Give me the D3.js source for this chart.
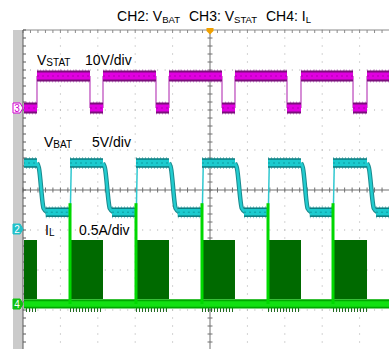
<!DOCTYPE html>
<html><head><meta charset="utf-8">
<script src="https://cdn.jsdelivr.net/npm/d3@7"></script>
<style>
html,body{margin:0;padding:0;background:#fff;}
svg{display:block;font-family:"Liberation Sans",Arial,sans-serif;}
</style></head>
<body><svg id="c" width="389" height="349"></svg>
<script>
// ---- data (time in divisions, channel values in V / A) ----
const statRise = [0.374, 2.139, 3.904, 5.668, 7.433, 9.198];
const statFall = [1.791, 3.556, 5.321, 7.059, 8.824];
const statLow = 0, statHigh = 8.0;            // V, 10 V/div
const batRise = [1.257, 3.021, 4.786, 6.551, 8.289];
const batFallStart = [0.374, 2.139, 3.904, 5.668, 7.433, 9.198];
const batFallEnd = [0.61, 2.38, 4.14, 5.91, 7.67, 9.44];
const batHigh = 8.25, batLow = 2.1;           // V, 5 V/div
const burstStart = [0, 1.257, 3.021, 4.786, 6.551, 8.289];
const burstEnd = [0.374, 2.139, 3.904, 5.668, 7.433, 9.198];
const burstLevel = 0.8, spikeLevel = 1.26;    // A, 0.5 A/div
const channels = [
  {id:"3", name:"V_STAT", perDiv:10, offset:2.05, color:"#d000d0"},
  {id:"2", name:"V_BAT", perDiv:5, offset:-0.975, color:"#20c0c8"},
  {id:"4", name:"I_L", perDiv:0.5, offset:-2.85, color:"#10c010"}
];

const svg = d3.select("#c");
const x = d3.scaleLinear().domain([0,10]).range([23,397]);
const y = d3.scaleLinear().domain([-4,4]).range([350,30]);
const ch = id => channels.find(c=>c.id===id);
const yv = (id,v) => { const c = ch(id); return y(c.offset + v/c.perDiv); };

// ---- frame / graticule ----
svg.append("rect").attr("x",13).attr("y",30).attr("width",10).attr("height",319).attr("fill","#cbcbcb");
const g = svg.append("g");
const minorX = d3.range(0,10.001,0.2), minorY = d3.range(-4,4.001,0.2);
[1,2,3,4,6,7,8,9].forEach(k=>{
  minorY.forEach(v=>g.append("rect").attr("x",x(k)-0.5).attr("y",y(v)-0.5).attr("width",1).attr("height",1).attr("fill","#a8a8a8"));
});
[-3,-2,-1,1,2,3].forEach(k=>{
  minorX.forEach(t=>g.append("rect").attr("x",x(t)-0.5).attr("y",y(k)-0.5).attr("width",1).attr("height",1).attr("fill","#a8a8a8"));
});
g.append("line").attr("x1",x(0)).attr("x2",389).attr("y1",y(0)).attr("y2",y(0)).attr("stroke","#707070");
g.append("line").attr("x1",x(5)).attr("x2",x(5)).attr("y1",y(4)).attr("y2",349).attr("stroke","#707070");
minorX.forEach(t=>g.append("line").attr("x1",x(t)).attr("x2",x(t)).attr("y1",y(0)-2.5).attr("y2",y(0)+2.5).attr("stroke","#707070"));
minorY.forEach(v=>g.append("line").attr("x1",x(5)-2.5).attr("x2",x(5)+2.5).attr("y1",y(v)).attr("y2",y(v)).attr("stroke","#707070"));
g.append("line").attr("x1",x(0)).attr("x2",389).attr("y1",y(4)).attr("y2",y(4)).attr("stroke","#8a8a8a");
minorX.forEach(t=>g.append("line").attr("x1",x(t)).attr("x2",x(t)).attr("y1",y(4)).attr("y2",y(4)+3).attr("stroke","#8a8a8a"));
g.append("line").attr("x1",x(0)).attr("x2",x(0)).attr("y1",y(4)).attr("y2",349).attr("stroke","#5a5a5a");
minorY.forEach(v=>g.append("line").attr("x1",x(0)).attr("x2",x(0)+3).attr("y1",y(v)).attr("y2",y(v)).attr("stroke","#5a5a5a"));

const plot = svg.append("g");
svg.append("clipPath").attr("id","clip").append("rect").attr("x",x(0)+1).attr("y",y(4)+1).attr("width",389-x(0)).attr("height",320);
plot.attr("clip-path","url(#clip)");

// ---- CH3 V_STAT ----
const statEdges = [...statRise.map(t=>({t,v:statHigh})), ...statFall.map(t=>({t,v:statLow}))].sort((a,b)=>a.t-b.t);
const statSegs = [];
let prevT = 0, prevV = statLow;
statEdges.forEach(e=>{ statSegs.push({a:prevT,b:e.t,v:prevV}); prevT=e.t; prevV=e.v; });
statSegs.push({a:prevT,b:10,v:prevV});
const gs = plot.append("g");
statEdges.forEach(e=>gs.append("line").attr("x1",x(e.t)).attr("x2",x(e.t)).attr("y1",yv("3",statLow)).attr("y2",yv("3",statHigh)).attr("stroke","#c868c8").attr("stroke-width",1.5));
[["#d8a0dc",13,"1 2"],["#7a107a",11,null],["#e000e0",7,null],["#b000b0",1,"2 3"]].forEach(([c,w,d])=>{
  statSegs.forEach(s=>{
    const l = gs.append("line").attr("x1",x(s.a)).attr("x2",x(s.b)).attr("y1",yv("3",s.v)).attr("y2",yv("3",s.v)).attr("stroke",c).attr("stroke-width",w);
    if(d) l.attr("stroke-dasharray",d);
  });
});

// ---- CH2 V_BAT ----
const gb = plot.append("g");
const starts = [0, ...batRise];
const ends = [...batRise, 10];
const bline = d3.line().x(d=>x(d[0])).y(d=>yv("2",d[1])).curve(d3.curveMonotoneX);
batRise.forEach(t=>gb.append("line").attr("x1",x(t)+0.3).attr("x2",x(t)+1.3).attr("y1",yv("2",batLow)).attr("y2",yv("2",batHigh)).attr("stroke","#30c8d0").attr("stroke-width",1.5));
const ramps = batFallStart.map((s,i)=>[[s,batHigh],[s+0.05,batHigh-0.6],[batFallEnd[i]-0.06,batLow+0.5],[batFallEnd[i]+0.04,batLow]]);
[["#1a8a8e",4.5],["#22cccf",2.5]].forEach(([c,w])=>{
  ramps.forEach(p=>gb.append("path").attr("d",bline(p)).attr("fill","none").attr("stroke",c).attr("stroke-width",w).attr("stroke-linejoin","round"));
});
const batSegs = [];
starts.forEach((s,i)=>{ batSegs.push({a:s,b:batFallStart[i],v:batHigh}); batSegs.push({a:batFallEnd[i],b:ends[i],v:batLow}); });
[["#90d0d0",12,"1 2"],["#0a7a7e",9.5,null],["#1ccbcf",6.5,null],["#0c9a9e",1,"2 3"]].forEach(([c,w,d])=>{
  batSegs.forEach(s=>{
    const l = gb.append("line").attr("x1",x(s.a)).attr("x2",x(s.b)).attr("y1",yv("2",s.v)).attr("y2",yv("2",s.v)).attr("stroke",c).attr("stroke-width",w);
    if(d) l.attr("stroke-dasharray",d);
  });
});

// ---- CH4 I_L ----
const gi = plot.append("g");
burstStart.forEach((s,i)=>{
  gi.append("rect").attr("x",x(s)).attr("y",yv("4",burstLevel)).attr("width",x(burstEnd[i])-x(s)).attr("height",yv("4",0)-yv("4",burstLevel)).attr("fill","#006a00");
  gi.append("line").attr("x1",x(s)).attr("x2",x(burstEnd[i])).attr("y1",yv("4",-0.07)).attr("y2",yv("4",-0.07)).attr("stroke","#206a20").attr("stroke-width",5).attr("stroke-dasharray","1 2");
});
gi.append("line").attr("x1",x(0)).attr("x2",x(10)).attr("y1",yv("4",0)).attr("y2",yv("4",0)).attr("stroke","#00a800").attr("stroke-width",9);
gi.append("line").attr("x1",x(0)).attr("x2",x(10)).attr("y1",yv("4",0)).attr("y2",yv("4",0)).attr("stroke","#12e012").attr("stroke-width",5.5);
gi.append("line").attr("x1",x(0)).attr("x2",x(10)).attr("y1",yv("4",0)-4.5).attr("y2",yv("4",0)-4.5).attr("stroke","#38c038").attr("stroke-width",1);
batRise.forEach(t=>{
  gi.append("line").attr("x1",x(t)).attr("x2",x(t)).attr("y1",yv("4",0)).attr("y2",yv("4",spikeLevel)).attr("stroke","#00d800").attr("stroke-width",3);
});

// ---- trigger marker ----
svg.append("path").attr("d",`M${x(5)-3.5},${y(4)-2} h7 v3 l-3.5,3.5 l-3.5,-3.5 z`).attr("fill","#f0a000");

// ---- channel markers ----
channels.forEach(c=>{
  const cy = yv(c.id,0);
  const filled = c.id!=="3";
  svg.append("path").attr("d",`M13,${cy-5} h7 l3,5 l-3,5 h-7 z`)
    .attr("fill",filled?c.color:"#fff").attr("stroke",c.color).attr("stroke-width",1);
  svg.append("text").attr("x",17).attr("y",cy+3.5).attr("text-anchor","middle").attr("font-size",10)
    .attr("fill",filled?"#fff":c.color).text(c.id);
});

// ---- labels ----
function label(xp, yp, main, sub, rest, restX){
  const t = svg.append("text").attr("x",xp).attr("y",yp).attr("font-size",14).attr("fill","#000");
  t.append("tspan").text(main);
  t.append("tspan").attr("font-size",10).attr("dy",1).text(sub);
  svg.append("text").attr("x",restX).attr("y",yp).attr("font-size",14).attr("fill","#000").text(rest);
}
label(37,65,"V","STAT","10V/div",85);
label(44,147,"V","BAT","5V/div",92);
label(45,235,"I","L","0.5A/div",79);

// ---- title ----
const titleParts = [["CH2: V","BAT"],["CH3: V","STAT"],["CH4: I","L"]];
const title = svg.append("text").attr("x",214).attr("y",21).attr("text-anchor","middle").attr("font-size",14).attr("fill","#000");
titleParts.forEach(([m,s],i)=>{
  const a = title.append("tspan").text(m);
  if(i>0) a.attr("dx",9).attr("dy",-1.5);
  title.append("tspan").attr("font-size",9.5).attr("dy",1.5).text(s);
});
</script></body></html>
